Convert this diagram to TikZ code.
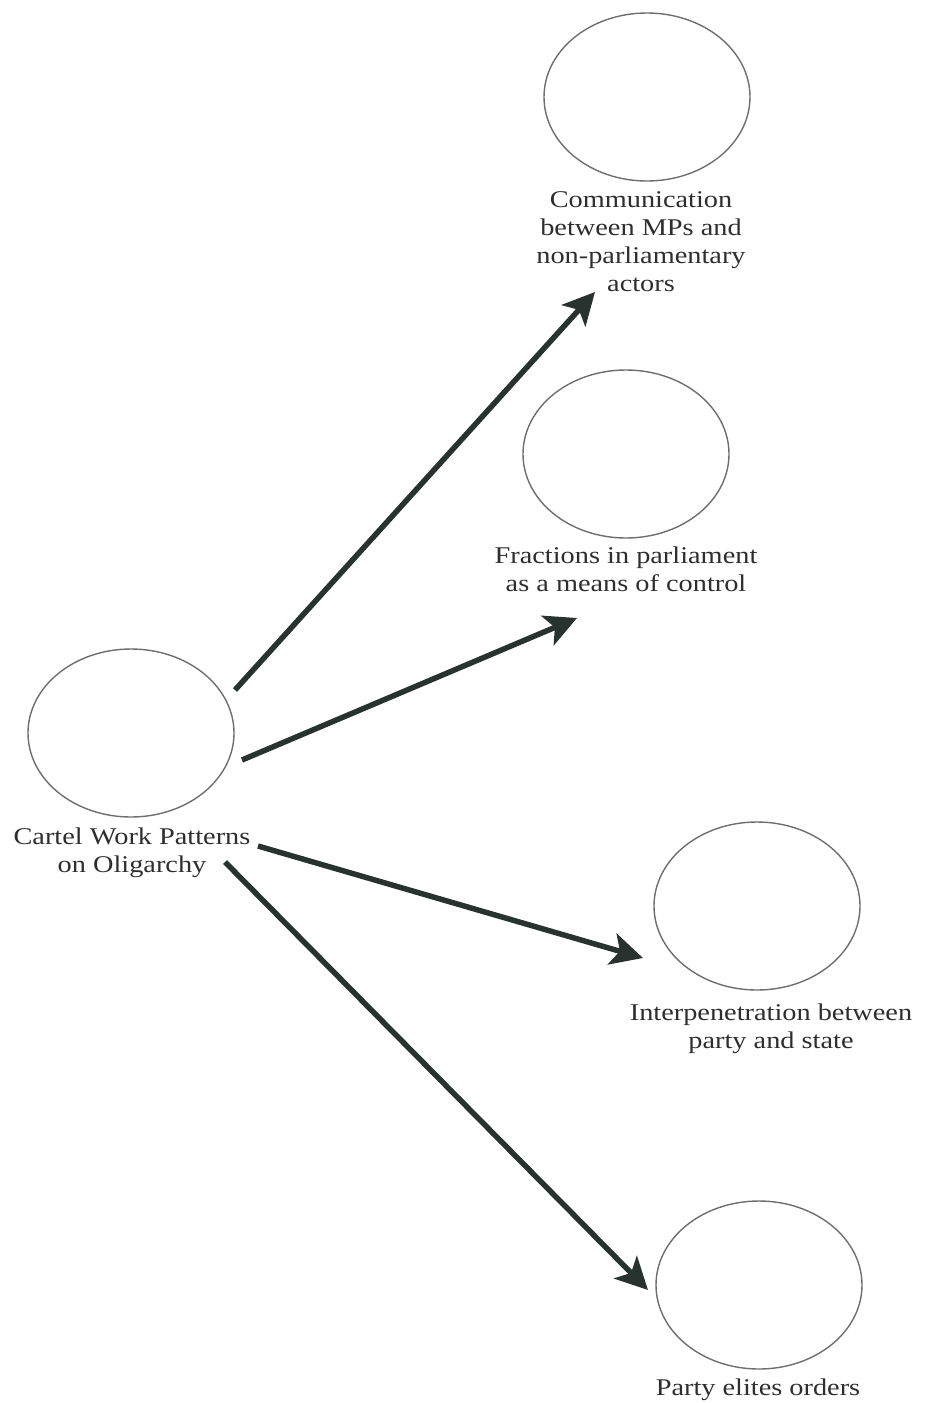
\documentclass[tikz,border=0pt]{standalone}
\usepackage{fontspec}
\setmainfont{Liberation Serif}
\newfontfamily\lblfont[FakeStretch=1.18]{Liberation Serif}
\usetikzlibrary{arrows.meta,shapes.geometric}
\definecolor{arrowcol}{HTML}{28332F}
\definecolor{ellcol}{HTML}{6E6E6E}
\definecolor{txtcol}{HTML}{2E2E2E}
\begin{document}
\begin{tikzpicture}[x=1pt,y=-1pt,
  ell/.style={draw=ellcol,line width=1.4pt,ellipse,minimum width=206pt,minimum height=168pt,inner sep=0pt},
  lbl/.style={align=center,text=txtcol,font=\lblfont\fontsize{24}{28}\selectfont,inner sep=0pt},
  conn/.style={draw=arrowcol,line width=5.5pt,-{Stealth[length=32pt,width=32pt,inset=8pt]}}]
\useasboundingbox (0,0) rectangle (929,1403);
\node[ell] (e1) at (647,97) {};
\node[ell] (e2) at (626,454) {};
\node[ell] (e0) at (131,733) {};
\node[ell] (e3) at (757,906) {};
\node[ell] (e4) at (759,1285) {};
\node[lbl,anchor=north] (t1) at (641,191) {Communication\\between MPs and\\non-parliamentary\\actors};
\node[lbl,anchor=north] (t2) at (626,547) {Fractions in parliament\\as a means of control};
\node[lbl,anchor=north] (t0) at (132,828) {Cartel Work Patterns\\on Oligarchy};
\node[lbl,anchor=north] (t3) at (771,1004) {Interpenetration between\\party and state};
\node[lbl,anchor=north] (t4) at (758,1379) {Party elites orders};
\coordinate (s1) at (235,690);
\coordinate (a1) at (595,292);
\coordinate (s2) at (242,760);
\coordinate (a2) at (577,618);
\coordinate (s3) at (258,846);
\coordinate (a3) at (643,958);
\coordinate (s4) at (225,862);
\coordinate (a4) at (648,1290);
\draw[conn] (s1) -- (a1);
\draw[conn] (s2) -- (a2);
\draw[conn] (s3) -- (a3);
\draw[conn] (s4) -- (a4);
\end{tikzpicture}
\end{document}
